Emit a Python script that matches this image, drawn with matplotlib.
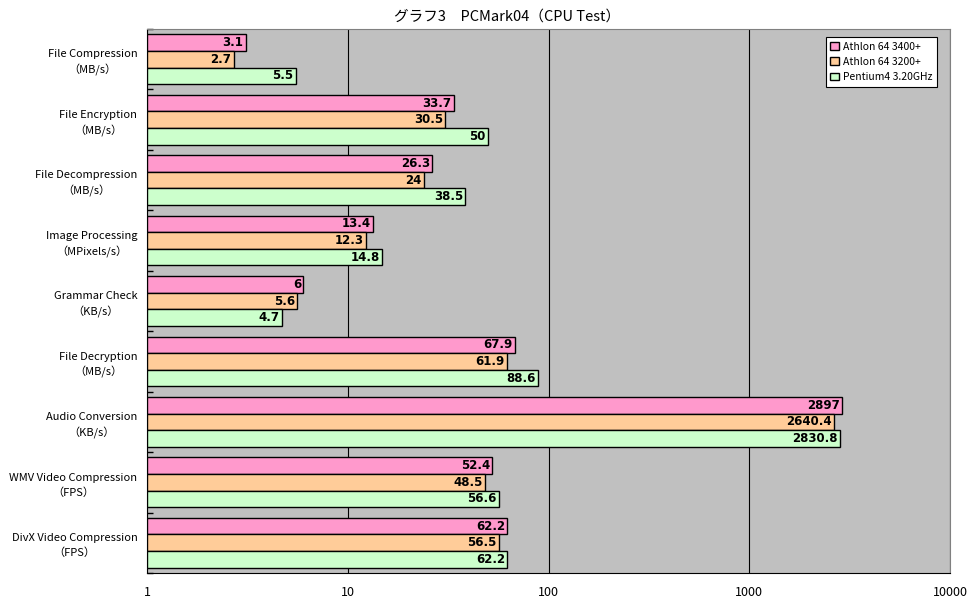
import matplotlib
matplotlib.use("Agg")
import matplotlib.pyplot as plt
import numpy as np

plt.rcParams['font.family'] = ['Noto Sans CJK JP', 'DejaVu Sans']

categories = ["File Compression\n（MB/s）", "File Encryption\n（MB/s）", "File Decompression\n（MB/s）",
              "Image Processing\n（MPixels/s）", "Grammar Check\n（KB/s）", "File Decryption\n（MB/s）",
              "Audio Conversion\n（KB/s）", "WMV Video Compression\n（FPS）", "DivX Video Compression\n（FPS）"]
series_names = ["Athlon 64 3400+", "Athlon 64 3200+", "Pentium4 3.20GHz"]
athlon3400 = [3.1, 33.7, 26.3, 13.4, 6, 67.9, 2897, 52.4, 62.2]
athlon3200 = [2.7, 30.5, 24, 12.3, 5.6, 61.9, 2640.4, 48.5, 56.5]
pentium4 = [5.5, 50, 38.5, 14.8, 4.7, 88.6, 2830.8, 56.6, 62.2]
colors = ["#FF99CC", "#FFCC99", "#CCFFCC"]
xticks = [1, 10, 100, 1000, 10000]

fig = plt.figure(figsize=(9.72, 6.04), dpi=100)
ax = fig.add_axes([147/972, (604-573)/604, (950-147)/972, (573-29)/604])
ax.set_facecolor("#C0C0C0")

n = len(categories)
h = 0.275
ys = np.arange(n)
for i, (vals, col, name) in enumerate(zip([athlon3400, athlon3200, pentium4], colors, series_names)):
    pos = ys + (i - 1) * h
    widths = [v - 1 for v in vals]
    ax.barh(pos, widths, height=h, left=1, color=col, edgecolor="black", linewidth=1, label=name, zorder=3)
    for p, v in zip(pos, vals):
        ax.text(v / 1.025, p, f"{v:g}", ha="right", va="center", fontsize=8.5, fontweight="bold",
                family="DejaVu Sans", zorder=4)

ax.set_xscale("log")
ax.set_xlim(1, 10000)
ax.set_ylim(n - 0.5, -0.5)
ax.set_xticks(xticks)
ax.set_xticklabels([str(t) for t in xticks], fontsize=9)
ax.xaxis.set_minor_locator(matplotlib.ticker.NullLocator())
ax.tick_params(axis="x", length=0, pad=9)
ax.grid(axis="x", color="black", linewidth=0.8, zorder=1)

ax.set_yticks(ys)
ax.set_yticklabels(categories, fontsize=8, ha="right", multialignment="center", linespacing=1.5)
ax.tick_params(axis="y", length=0, pad=7)
ax.set_yticks(np.arange(n + 1) - 0.5, minor=True)
ax.tick_params(axis="y", which="minor", direction="in", length=4, width=1)

for s in ax.spines.values():
    s.set_color("black")
    s.set_linewidth(0.8)
ax.spines["top"].set_color("#808080")
ax.spines["right"].set_color("#808080")

leg = ax.legend(loc="upper right", bbox_to_anchor=((937-147)/803, (573-37)/544), borderaxespad=0,
                fontsize=7.5, frameon=True, fancybox=False,
                edgecolor="black", framealpha=1, handlelength=0.8, handleheight=0.8, handletextpad=0.4,
                borderpad=0.45, labelspacing=0.5)
leg.get_frame().set_linewidth(0.8)

fig.text(507/972, 1 - 17/604, "グラフ3　PCMark04（CPU Test）", ha="center", va="center", fontsize=10.5)
fig.savefig("out.png", dpi=100)
